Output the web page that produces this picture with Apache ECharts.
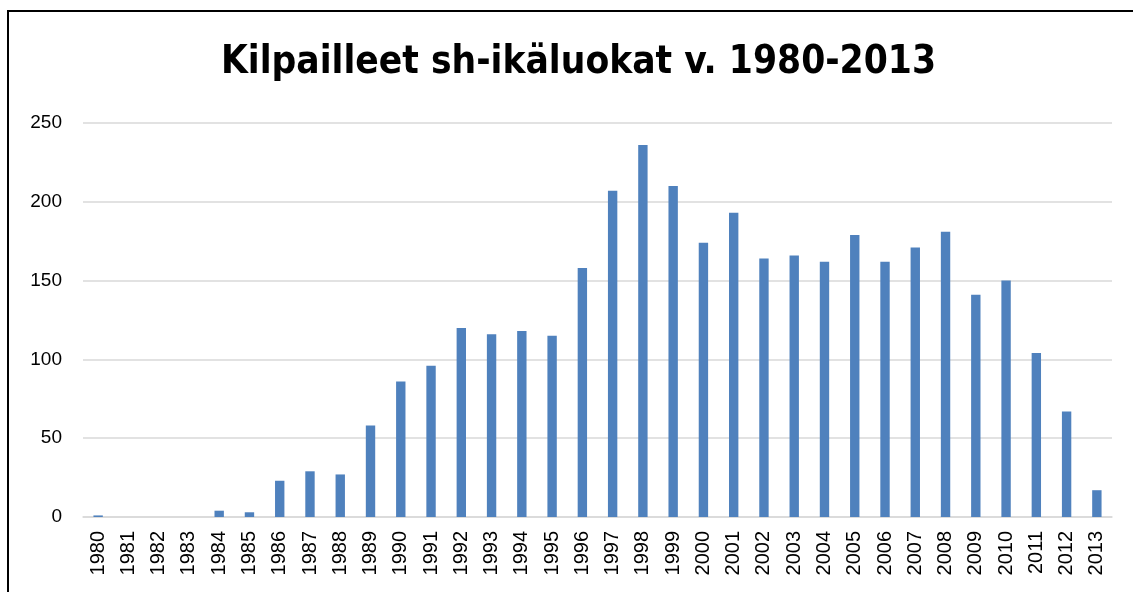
<!DOCTYPE html>
<html>
<head>
<meta charset="utf-8">
<script src="https://cdn.jsdelivr.net/npm/echarts@6/dist/echarts.min.js"></script>
<style>
html,body{margin:0;padding:0;background:#fff;}
#chart{width:1133px;height:592px;}
</style>
</head>
<body>
<div id="chart"></div>
<script>
var years = ['1980','1981','1982','1983','1984','1985','1986','1987','1988','1989','1990','1991','1992','1993','1994','1995','1996','1997','1998','1999','2000','2001','2002','2003','2004','2005','2006','2007','2008','2009','2010','2011','2012','2013'];
var values = [1,0,0,0,4,3,23,29,27,58,86,96,120,116,118,115,158,207,236,210,174,193,164,166,162,179,162,171,181,141,150,104,67,17];
var titleText = 'Kilpailleet sh-ikäluokat v. 1980-2013';

var chart = echarts.init(document.getElementById('chart'));
chart.setOption({
  animation: false,
  backgroundColor: '#ffffff',
  title: {
    text: titleText,
    left: 216,
    top: 38,
    textStyle: {
      fontFamily: '"DejaVu Sans Condensed", "Liberation Sans", sans-serif',
      fontWeight: 'bold',
      fontSize: 38.5,
      color: '#000000'
    }
  },
  graphic: [{
    type: 'rect',
    shape: {x: 8, y: 11, width: 1300, height: 800},
    style: {fill: 'none', stroke: '#000000', lineWidth: 2},
    silent: true
  }],
  grid: {left: 83, right: 21, top: 123, bottom: 75},
  xAxis: {
    type: 'category',
    data: years,
    axisLine: {show: true, lineStyle: {color: '#d9d9d9', width: 1.5}},
    axisTick: {show: false},
    axisLabel: {
      rotate: 90,
      interval: 0,
      margin: 14,
      fontFamily: '"Liberation Sans", Arial, sans-serif',
      fontSize: 20,
      color: '#000000'
    }
  },
  yAxis: {
    type: 'value',
    min: 0,
    max: 250,
    interval: 50,
    axisLine: {show: false},
    axisTick: {show: false},
    splitLine: {lineStyle: {color: '#d9d9d9', width: 1.5}},
    axisLabel: {
      margin: 21,
      fontFamily: '"Liberation Sans", Arial, sans-serif',
      fontSize: 19,
      color: '#000000'
    }
  },
  series: [{
    type: 'bar',
    data: values,
    barWidth: '31%',
    itemStyle: {color: '#4f81bd'}
  }]
});
</script>
</body>
</html>
